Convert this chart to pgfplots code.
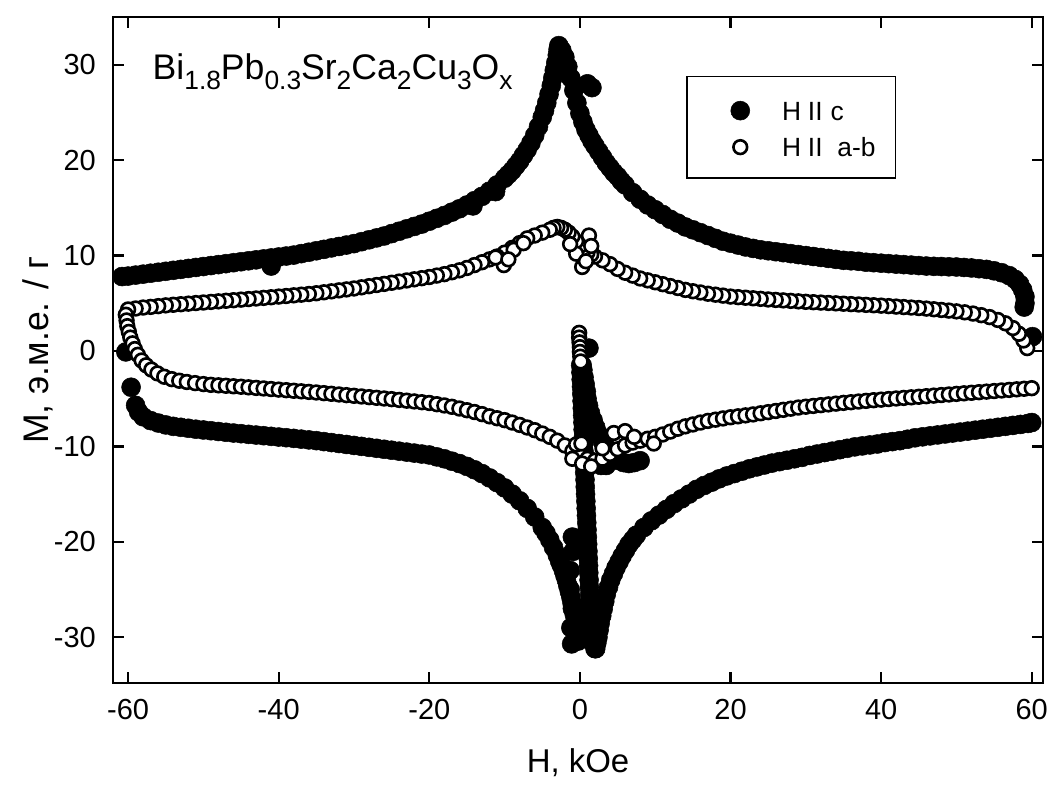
\documentclass[border=0pt]{standalone}
\usepackage{fontspec}
\setmainfont{Liberation Sans}
\usepackage{pgfplots}
\pgfplotsset{compat=1.18}
\newcommand{\sub}[1]{\raisebox{-3.8pt}{\fontsize{10}{12}\selectfont #1}}

\begin{document}
\begin{tikzpicture}
\useasboundingbox (-1.507,-1.36) rectangle (12.533,9.107);
\begin{axis}[
    at={(0,0)}, anchor=south west,
    scale only axis,
    width=12.40cm, height=8.88cm,
    xmin=-62, xmax=61.5,
    ymin=-34.8, ymax=35,
    xtick={-60,-40,...,60},
    ytick={-30,-20,...,30},
    tick align=inside,
    major tick length=4pt,
    tick style={line width=0.9pt, black},
    axis line style={line width=1pt},
    /pgf/number format/assume math mode=true,
    ticklabel style={font=\fontsize{11}{13}\selectfont},
    xticklabel style={yshift=-2.7pt},
    yticklabel style={xshift=-3pt},
    every axis x label/.style={at={(axis description cs:0.5,-0.135)}, anchor=base, font=\fontsize{12.5}{14}\selectfont},
    every axis y label/.style={at={(axis description cs:-0.081,0.5)}, rotate=90, anchor=center, font=\fontsize{13.5}{15}\selectfont},
    xlabel={H, kOe},
    ylabel={M, э.м.е. / г},
    legend style={at={(axis cs:17.67,26.7)}, anchor=north west, draw=none, fill=none,
        inner xsep=0pt, inner ysep=0pt, row sep=1.1pt,
        font=\fontsize{10}{11}\selectfont, nodes={inner sep=2pt}, cells={anchor=base west}},
    legend image code/.code={\path (0cm,0cm) (0.83cm,0cm); \draw[#1] plot coordinates {(0.35cm,3.6pt)};},
]
% H || c
\addplot[only marks, mark=*, mark size=3.6pt, mark options={fill=black, draw=black, line width=0.2pt}] coordinates {
(-60.8,7.8) (-60,7.85) (-59,7.95) (-58,8.05) (-57,8.15) (-56,8.25) (-55,8.35) (-54,8.45) (-53,8.55) (-52,8.65)
(-51,8.75) (-50,8.85) (-49,8.95) (-48,9.05) (-47,9.15) (-46,9.25) (-45,9.35) (-44,9.45) (-43,9.55) (-42,9.65)
(-41,9.75) (-41,8.9) (-40,9.85) (-39,9.95) (-38,10.05) (-37,10.2) (-36,10.35) (-35,10.5) (-34,10.65) (-33,10.8)
(-32,10.95) (-31,11.1) (-30,11.25) (-29,11.45) (-28,11.65) (-27,11.85) (-26,12.05) (-25,12.3) (-24,12.55) (-23,12.8)
(-22,13.05) (-21,13.3) (-20,13.6) (-19,13.9) (-18,14.2) (-17,14.55) (-16,14.9) (-15,15.3) (-14,15.75) (-14.2,15.2)
(-13,16.2) (-12,16.75) (-11,17.4) (-11.2,16.7) (-10,18.1) (-9.5,18.5) (-9,18.9) (-8.5,19.4) (-8,19.9) (-7.5,20.5)
(-7,21.1) (-6.5,21.8) (-6,22.6) (-5.5,23.5) (-5,24.5) (-4.7,25.2) (-4.4,26.0) (-4.1,26.9) (-3.8,27.8) (-3.6,28.6)
(-3.4,29.4) (-3.2,30.2) (-3.0,31.0) (-2.9,31.6) (-2.8,32.0)
(-2.4,31.5) (-2.0,30.8) (-1.6,29.8) (-1.2,28.6) (-0.8,27.3) (-0.4,26.0) (0,24.9) (0.4,24.0) (0.8,23.2) (1.2,22.6)
(1.6,22.0) (2,21.5) (2.5,20.9) (3,20.3) (3.5,19.7) (4,19.2) (4.5,18.7) (5,18.3) (5.5,17.8) (6,17.4)
(7,16.6) (8,15.9) (9,15.3) (10,14.8) (11,14.3) (12,13.8) (13,13.4) (14,13.0) (15,12.7) (16,12.4)
(17,12.1) (18,11.8) (19,11.5) (20,11.3) (21,11.1) (22,10.9) (23,10.75) (24,10.6) (25,10.5) (26,10.4)
(27,10.3) (28,10.2) (29,10.1) (30,10.0) (31,9.9) (32,9.8) (33,9.7) (34,9.6) (35,9.5) (36,9.45)
(37,9.4) (38,9.3) (39,9.25) (40,9.2) (41,9.15) (42,9.1) (43,9.05) (44,9.0) (45,8.95) (46,8.9)
(47,8.87) (48,8.85) (49,8.82) (50,8.8) (51,8.75) (52,8.7) (53,8.62) (54,8.55) (55,8.4) (56,8.2)
(57,7.9) (57.8,7.5) (58.4,7.0) (58.8,6.4) (59.1,5.7) (59.1,5.0) (59,4.6)
(1.0,28.0) (1.6,27.6) (60.1,1.5) (-60.3,-0.1) (-59.6,-3.8) (1.2,0.3)
(-59,-5.7) (-58.6,-6.4) (-58,-6.9) (-57,-7.3) (-56,-7.55) (-55,-7.75) (-54,-7.9) (-53,-8.0) (-52,-8.1) (-51,-8.2)
(-50,-8.28) (-49,-8.36) (-48,-8.44) (-47,-8.52) (-46,-8.6) (-45,-8.67) (-44,-8.74) (-43,-8.81) (-42,-8.88) (-41,-8.95)
(-40,-9.02) (-39,-9.09) (-38,-9.16) (-37,-9.24) (-36,-9.32) (-35,-9.4) (-34,-9.5) (-33,-9.6) (-32,-9.7) (-31,-9.8)
(-30,-9.9) (-29,-10.0) (-28,-10.1) (-27,-10.2) (-26,-10.3) (-25,-10.4) (-24,-10.5) (-23,-10.6) (-22,-10.7) (-21,-10.8)
(-20,-10.9) (-19,-11.1) (-18,-11.3) (-17,-11.55) (-16,-11.8) (-15,-12.1) (-14,-12.45) (-13,-12.85) (-12,-13.3) (-11,-13.8)
(-10,-14.35) (-9,-15.0) (-8,-15.7) (-7,-16.5) (-6,-17.4) (-5,-18.5) (-4.5,-19.1) (-4,-19.8) (-3.5,-20.6) (-3,-21.4)
(-2.7,-22.0) (-2.5,-22.4) (-2.2,-23.0) (-2,-23.5) (-1.8,-24.0) (-1.6,-24.6) (-1.4,-25.2) (-1.2,-25.8) (-1.05,-26.4) (-0.9,-27.0)
(-0.75,-27.6) (-0.6,-28.2) (-0.5,-28.8) (-0.4,-29.4) (-0.3,-29.9) (-0.2,-30.4)
(-1.0,-19.5) (-0.9,-21) (-1.3,-23) (-1.3,-25) (-1.0,-27) (-1.2,-29) (-1.1,-30.7)
(0.10,-1.5) (0.14,-2.25) (0.17,-3.0) (0.21,-3.75) (0.25,-4.5) (0.29,-5.25) (0.32,-6.0) (0.36,-6.75) (0.40,-7.5) (0.43,-8.25)
(0.47,-9.0) (0.50,-9.75) (0.54,-10.5) (0.57,-11.25) (0.61,-12.0) (0.64,-12.75) (0.68,-13.5) (0.71,-14.25) (0.75,-15.0) (0.79,-15.75)
(0.83,-16.5) (0.87,-17.25) (0.91,-18.0) (0.95,-18.75) (0.99,-19.5) (1.03,-20.25) (1.07,-21.0) (1.11,-21.75) (1.15,-22.5) (1.18,-23.25)
(1.22,-24.0) (1.26,-24.75) (1.30,-25.5) (1.35,-26.25) (1.40,-27.0) (1.45,-27.75) (1.50,-28.5) (1.55,-29.25) (1.60,-30.0) (1.8,-30.6)
(2.0,-31.2)
(0.3,-1.5) (0.4,-2) (0.55,-2.75) (0.7,-3.5) (0.85,-4.25) (0.95,-5) (1.15,-5.75) (1.4,-6.5) (1.75,-7.25) (2.1,-8)
(2.5,-8.75) (3.0,-9.5) (3.5,-10.1) (4.0,-10.7) (4.6,-11.1) (5.2,-11.5) (5.8,-11.7) (6.5,-11.8) (7.2,-11.7) (8,-11.5)
(1.3,-11.5) (2.0,-11.8) (2.8,-12.0) (3.5,-12.0)
(2.1,-31.2) (2.25,-30.6) (2.4,-30) (2.55,-29.25) (2.7,-28.5) (2.9,-27.75) (3.1,-27) (3.3,-26.25) (3.5,-25.5) (3.8,-24.75)
(4.1,-24) (4.45,-23.35) (4.8,-22.7) (5.2,-22.1) (5.6,-21.5) (6.05,-20.9) (6.5,-20.3) (7,-19.8) (7.5,-19.3)
(8.5,-18.5) (9.5,-17.8) (10.5,-17.2) (11.5,-16.6) (12.5,-16.0) (13.5,-15.5) (14.5,-15.0) (15.5,-14.5) (16.5,-14.1) (17.5,-13.75)
(18.5,-13.4) (19.5,-13.1) (20.5,-12.85) (21.5,-12.6) (22.5,-12.35) (23.5,-12.15) (24.5,-11.95) (25.5,-11.75) (26.5,-11.6) (27.5,-11.45)
(28.5,-11.3) (29.5,-11.15) (30.5,-10.95) (31.5,-10.8) (32.5,-10.65) (33.5,-10.5) (34.5,-10.35) (35.5,-10.2) (36.5,-10.05) (37.5,-9.95)
(38.5,-9.85) (39.5,-9.75) (40.5,-9.6) (41.5,-9.5) (42.5,-9.4) (43.5,-9.25) (44.5,-9.1) (45.5,-9.0) (46.5,-8.9) (47.5,-8.8)
(48.5,-8.7) (49.5,-8.6) (50.5,-8.5) (51.5,-8.4) (52.5,-8.3) (53.5,-8.2) (54.5,-8.1) (55.5,-8.0) (56.5,-7.9) (57.5,-7.8)
(58.5,-7.7) (59.5,-7.6) (60,-7.5)
};
% H || a-b
\addplot[only marks, mark=*, mark size=2.6pt, mark options={fill=white, draw=black, line width=1pt}] coordinates {
(59.4,0.3) (58.9,1.1) (58.3,1.8) (57.5,2.4) (56.5,2.9) (55.5,3.25) (54.4,3.55) (53.3,3.75) (52.2,3.92) (51.1,4.05)
(50,4.15) (49,4.23) (48,4.3) (47,4.37) (46,4.44) (45,4.5) (44,4.55) (43,4.6) (42,4.65) (41,4.7)
(40,4.75) (39,4.79) (38,4.83) (37,4.87) (36,4.91) (35,4.95) (34,4.99) (33,5.03) (32,5.07) (31,5.11)
(30,5.15) (29,5.2) (28,5.25) (27,5.3) (26,5.35) (25,5.4) (24,5.46) (23,5.52) (22,5.58) (21,5.64)
(20,5.7) (19,5.8) (18,5.9) (17,6.0) (16,6.13) (15,6.26) (14,6.4) (13,6.6) (12,6.8) (11,7.0)
(10,7.2) (9,7.4) (8,7.6) (7,7.9) (6,8.2) (5,8.6) (4,9.1) (3,9.5) (2,9.9) (1.5,10.1)
(1,10.3) (0.5,10.6) (0,11.0) (-0.5,11.5) (-1,12.0) (-1.5,12.4) (-2,12.7) (-2.5,12.9) (-3,13.0) (-3.5,12.9)
(-4,12.7) (-5,12.4) (-6,12.1) (-7,11.8) (-8,11.3) (-9,10.8) (-10,10.3) (-11,9.9) (-12,9.6) (-13,9.3)
(-14,9.0) (-15,8.7) (-16,8.45) (-17,8.25) (-18,8.05) (-19,7.9) (-20,7.75) (-21,7.63) (-22,7.51) (-23,7.39)
(-24,7.27) (-25,7.15) (-26,7.03) (-27,6.91) (-28,6.79) (-29,6.67) (-30,6.55) (-31,6.45) (-32,6.35) (-33,6.25)
(-34,6.15) (-35,6.05) (-36,5.97) (-37,5.9) (-38,5.83) (-39,5.76) (-40,5.7) (-41,5.63) (-42,5.56) (-43,5.5)
(-44,5.44) (-45,5.38) (-46,5.32) (-47,5.26) (-48,5.2) (-49,5.14) (-50,5.08) (-51,5.02) (-52,4.96) (-53,4.9)
(-54,4.84) (-55,4.78) (-56,4.7) (-57,4.62) (-58,4.55) (-59,4.45) (-60,4.35)
(-60.3,3.8) (-60.2,3.2) (-60.1,2.6) (-59.9,2.0) (-59.7,1.4) (-59.4,0.8) (-59.1,0.2) (-58.7,-0.4) (-58.2,-1.0) (-57.6,-1.5)
(-56.9,-1.95) (-56.1,-2.35) (-55.2,-2.7) (-54.2,-2.95) (-53.2,-3.12) (-52.2,-3.25) (-51.1,-3.37) (-50,-3.47)
(-49,-3.55) (-48,-3.6) (-47,-3.65) (-46,-3.7) (-45,-3.75) (-44,-3.81) (-43,-3.87) (-42,-3.93) (-41,-3.99) (-40,-4.05)
(-39,-4.11) (-38,-4.17) (-37,-4.23) (-36,-4.29) (-35,-4.35) (-34,-4.42) (-33,-4.49) (-32,-4.56) (-31,-4.63) (-30,-4.7)
(-29,-4.77) (-28,-4.84) (-27,-4.91) (-26,-4.98) (-25,-5.05) (-24,-5.13) (-23,-5.21) (-22,-5.29) (-21,-5.37) (-20,-5.45)
(-19,-5.58) (-18,-5.71) (-17,-5.85) (-16,-6.03) (-15,-6.21) (-14,-6.4) (-13,-6.62) (-12,-6.85) (-11,-7.05) (-10,-7.25)
(-9,-7.5) (-8,-7.75) (-7,-8.02) (-6,-8.3) (-5,-8.65) (-4,-9.0) (-3,-9.4) (-2,-9.9) (-1,-10.5) (0,-11.0)
(1,-11.3) (2,-11.5) (3,-11.3) (4,-10.8) (5,-10.3) (6,-9.9) (7,-9.6) (8,-9.4) (9,-9.2) (10,-9.0)
(11,-8.75) (12,-8.45) (13,-8.15) (14,-7.9) (15,-7.7) (16,-7.5) (17,-7.33) (18,-7.2) (19,-7.07) (20,-6.95)
(21,-6.85) (22,-6.75) (23,-6.65) (24,-6.53) (25,-6.41) (26,-6.29) (27,-6.17) (28,-6.05) (29,-5.93) (30,-5.84)
(31,-5.76) (32,-5.68) (33,-5.6) (34,-5.52) (35,-5.44) (36,-5.37) (37,-5.3) (38,-5.23) (39,-5.16) (40,-5.1)
(41,-5.04) (42,-4.98) (43,-4.92) (44,-4.86) (45,-4.8) (46,-4.74) (47,-4.68) (48,-4.62) (49,-4.56) (50,-4.5)
(51,-4.44) (52,-4.38) (53,-4.32) (54,-4.26) (55,-4.2) (56,-4.14) (57,-4.08) (58,-4.02) (59,-3.96) (60,-3.9)
(-0.5,-9.8) (0.2,-9.7) (-1,-11.3) (0.3,-11.8) (1.5,-12.1) (3,-10.2) (4.5,-8.6) (6,-8.4) (7.2,-9.0) (9.8,-9.7)
(-10.1,9.0) (-11.2,9.8) (-8.8,10.6) (-7.5,11.3) (-9.5,9.6) (0.3,8.8) (-0.5,10.2) (1.2,12.1) (0.8,9.4) (-1.3,11.2) (1.5,11.0)
(-0.1,1.9) (-0.1,1.4) (-0.05,0.9) (0,0.4) (0,-0.1) (0.05,-0.6) (0.1,-1.1)
};
\legend{H\hspace{2.6pt}II\hspace{3pt}c, H\hspace{2.6pt}II\hspace{5.6pt}a-b}
\draw[line width=0.6pt] (axis cs:14.2,28.75) rectangle (axis cs:41.9,18.15);
\node[anchor=base west, inner sep=0pt, font=\fontsize{13.5}{16}\selectfont] at (axis cs:-56.8,28.4)
    {Bi\sub{1.8}Pb\sub{0.3}Sr\sub{2}Ca\sub{2}Cu\sub{3}O\sub{x}};
\end{axis}
\end{tikzpicture}
\end{document}
